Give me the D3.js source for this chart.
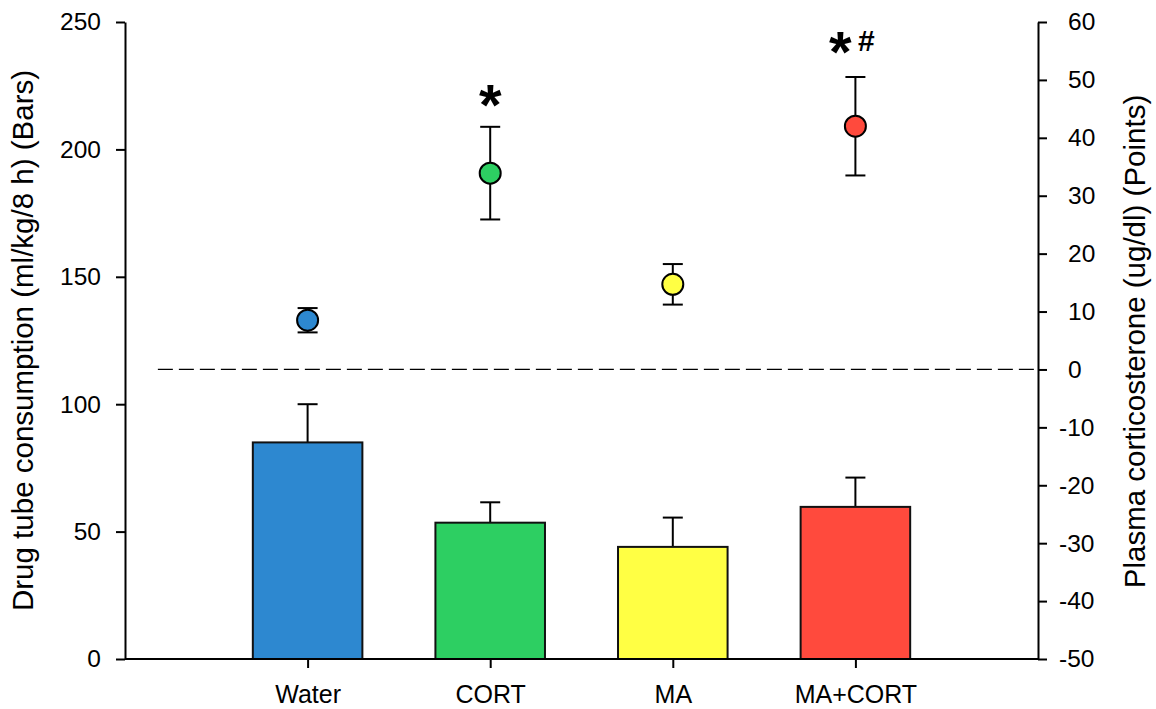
<!DOCTYPE html>
<html>
<head>
<meta charset="utf-8">
<script src="https://cdn.jsdelivr.net/npm/d3@7"></script>
<style>
  body { margin: 0; background: #fff; }
  svg { display: block; font-family: "Liberation Sans", Arial, sans-serif; }
</style>
</head>
<body>
<svg id="chart" width="1156" height="709"></svg>
<script>
// ---- data ----
const categories = ["Water", "CORT", "MA", "MA+CORT"];
const colors = ["#2d88d0", "#2dcf62", "#ffff44", "#ff4a3d"];
const barValues = [85, 53.5, 44, 59.7];        // drug tube consumption (left axis)
const barErrors = [15, 8, 11.5, 11.5];
const pointValues = [8.5, 33.9, 14.7, 42.0];   // plasma corticosterone (right axis)
const pointErrors = [2.1, 8.0, 3.5, 8.5];
const leftTicks = [0, 50, 100, 150, 200, 250];
const rightTicks = [-50, -40, -30, -20, -10, 0, 10, 20, 30, 40, 50, 60];
const annotations = [
  { cat: "CORT", parts: ["*"] },
  { cat: "MA+CORT", parts: ["*", "#"] }
];

// ---- layout ----
const W = 1156, H = 709;
const L = 125, R = 1038, T = 22, B = 659;
const svg = d3.select("#chart");

const x = d3.scalePoint().domain(categories).range([L, R]).padding(1);
const yL = d3.scaleLinear().domain([0, 250]).range([B, T]);
const yR = d3.scaleLinear().domain([-50, 60]).range([B, T]);
const barW = x.step() * 0.6;

// dashed zero line for right axis
svg.append("line")
  .attr("x1", L + x.step() * 0.18).attr("x2", R)
  .attr("y1", yR(0)).attr("y2", yR(0))
  .attr("stroke", "#000").attr("stroke-width", 1.3)
  .attr("stroke-dasharray", "15,6");

const data = categories.map((c, i) => ({
  c, i, bv: barValues[i], be: barErrors[i], pv: pointValues[i], pe: pointErrors[i], col: colors[i]
}));

// bar error bars (upper only)
svg.selectAll(".berr").data(data).enter().append("g").each(function(d) {
  const g = d3.select(this);
  g.append("line").attr("x1", x(d.c)).attr("x2", x(d.c))
    .attr("y1", yL(d.bv)).attr("y2", yL(d.bv + d.be))
    .attr("stroke", "#000").attr("stroke-width", 2);
  g.append("line").attr("x1", x(d.c) - 10).attr("x2", x(d.c) + 10)
    .attr("y1", yL(d.bv + d.be)).attr("y2", yL(d.bv + d.be))
    .attr("stroke", "#000").attr("stroke-width", 2);
});

// bars
svg.selectAll(".bar").data(data).enter().append("rect")
  .attr("x", d => x(d.c) - barW / 2)
  .attr("y", d => yL(d.bv))
  .attr("width", barW)
  .attr("height", d => yL(0) - yL(d.bv))
  .attr("fill", d => d.col)
  .attr("stroke", "#111").attr("stroke-width", 2);

// point error bars
svg.selectAll(".perr").data(data).enter().append("g").each(function(d) {
  const g = d3.select(this);
  const cx = x(d.c);
  g.append("line").attr("x1", cx).attr("x2", cx)
    .attr("y1", yR(d.pv - d.pe)).attr("y2", yR(d.pv + d.pe))
    .attr("stroke", "#000").attr("stroke-width", 2);
  [d.pv - d.pe, d.pv + d.pe].forEach(v => {
    g.append("line").attr("x1", cx - 10).attr("x2", cx + 10)
      .attr("y1", yR(v)).attr("y2", yR(v))
      .attr("stroke", "#000").attr("stroke-width", 2);
  });
});

svg.selectAll(".pt").data(data).enter().append("circle")
  .attr("cx", d => x(d.c)).attr("cy", d => yR(d.pv)).attr("r", 10.5)
  .attr("fill", d => d.col).attr("stroke", "#000").attr("stroke-width", 2);

// annotations
annotations.forEach(a => {
  const i = categories.indexOf(a.cat);
  const top = yR(pointValues[i] + pointErrors[i]);
  if (a.parts.length === 1) {
    svg.append("text").attr("x", x(a.cat)).attr("y", top - 2)
      .attr("text-anchor", "middle").attr("font-weight", "bold")
      .attr("font-size", 58).text(a.parts[0]);
  } else {
    svg.append("text").attr("x", x(a.cat) - 15).attr("y", top - 5)
      .attr("text-anchor", "middle").attr("font-weight", "bold")
      .attr("font-size", 58).text(a.parts[0]);
    svg.append("text").attr("x", x(a.cat) + 11).attr("y", top - 26)
      .attr("text-anchor", "middle").attr("font-weight", "bold")
      .attr("font-size", 30).text(a.parts[1]);
  }
});

// axes
function styleAxis(g) {
  g.selectAll("path, line").attr("stroke", "#000").attr("stroke-width", 2);
  g.selectAll("text").attr("fill", "#000").attr("font-size", 24.5)
    .attr("font-family", "Liberation Sans, Arial, sans-serif");
}

const axL = svg.append("g").attr("transform", `translate(${L},0)`)
  .call(d3.axisLeft(yL).tickValues(leftTicks).tickSize(9).tickSizeOuter(0).tickPadding(15));
styleAxis(axL);

const axR = svg.append("g").attr("transform", `translate(${R},0)`)
  .call(d3.axisRight(yR).tickValues(rightTicks).tickSize(9).tickSizeOuter(0)
    .tickFormat(d => String(d)));
styleAxis(axR);
axR.selectAll(".tick text").attr("x", d => d < 0 ? 21 : 30).attr("text-anchor", "start");

const axB = svg.append("g").attr("transform", `translate(0,${B})`)
  .call(d3.axisBottom(x).tickSize(9).tickSizeOuter(0).tickPadding(17));
axB.select(".domain").attr("d", `M${L},0H${R}`);
styleAxis(axB);
axB.selectAll(".tick text").attr("font-size", 25);

// axis titles
svg.append("text")
  .attr("transform", `translate(33,${(T + B) / 2}) rotate(-90)`)
  .attr("text-anchor", "middle").attr("font-size", 29.5)
  .text("Drug tube consumption (ml/kg/8 h) (Bars)");

svg.append("text")
  .attr("transform", `translate(1145,${(T + B) / 2 + 1}) rotate(-90)`)
  .attr("text-anchor", "middle").attr("font-size", 29.5)
  .text("Plasma corticosterone (ug/dl) (Points)");
</script>
</body>
</html>
